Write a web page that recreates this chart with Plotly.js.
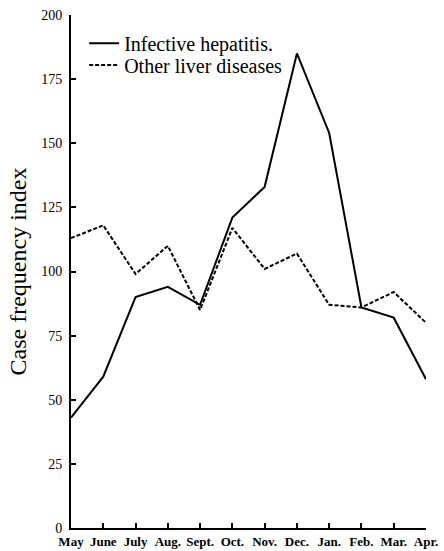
<!DOCTYPE html>
<html>
<head>
<meta charset="utf-8">
<script src="https://cdn.plot.ly/plotly-3.0.1.min.js"></script>
<style>html,body{margin:0;padding:0;background:#fff;}#chart{width:444px;height:551px;}</style>
</head>
<body>
<div id="chart"></div>
<script>
const months = ["May", "June", "July", "Aug.", "Sept.", "Oct.", "Nov.", "Dec.", "Jan.", "Feb.", "Mar.", "Apr."];
const infectiveHepatitis = [43, 59, 90, 94, 87, 121, 133, 185, 154, 86, 82, 58];
const otherLiverDiseases = [113, 118, 99, 110, 85, 117, 101, 107, 87, 86, 92, 80];
const yTicks = [0, 25, 50, 75, 100, 125, 150, 175, 200];

const serif = "'Liberation Serif', 'Times New Roman', serif";

const traces = [
  {
    x: months, y: infectiveHepatitis, type: "scatter", mode: "lines",
    name: "Infective hepatitis.", legend: "legend",
    line: {color: "#000", width: 2}
  },
  {
    x: months, y: otherLiverDiseases, type: "scatter", mode: "lines",
    name: "Other liver diseases", legend: "legend2",
    line: {color: "#000", width: 2, dash: "4px,2px"}
  }
];

const legendFont = {family: serif, size: 20, color: "#000"};

const layout = {
  width: 444, height: 551,
  margin: {l: 71, r: 18, t: 15, b: 23},
  paper_bgcolor: "#fff", plot_bgcolor: "#fff",
  font: {family: serif, color: "#000"},
  showlegend: true,
  legend: {
    x: 0.037, y: 0.945, xanchor: "left", yanchor: "middle",
    bgcolor: "rgba(0,0,0,0)", itemwidth: 30, font: legendFont
  },
  legend2: {
    x: 0.037, y: 0.9025, xanchor: "left", yanchor: "middle",
    bgcolor: "rgba(0,0,0,0)", itemwidth: 30, font: legendFont
  },
  xaxis: {
    type: "category", range: [0, 11],
    showgrid: false, zeroline: false,
    showline: true, linecolor: "#000", linewidth: 2,
    ticks: "inside", ticklen: 5, tickwidth: 2, tickcolor: "#000",
    tickfont: {family: serif, size: 13, color: "#000", weight: "bold"},
    ticklabelstandoff: 0,
    fixedrange: true
  },
  yaxis: {
    range: [0, 200], tickvals: yTicks, ticktext: yTicks.map(String),
    showgrid: false, zeroline: false,
    showline: true, linecolor: "#000", linewidth: 2,
    ticks: "inside", ticklen: 5, tickwidth: 2, tickcolor: "#000",
    tickfont: {family: serif, size: 14, color: "#000"},
    ticklabelstandoff: 4,
    title: {text: "Case frequency index", font: {family: serif, size: 24, color: "#000"}, standoff: 8},
    fixedrange: true
  }
};

Plotly.newPlot("chart", traces, layout, {displayModeBar: false, staticPlot: true});
</script>
</body>
</html>
